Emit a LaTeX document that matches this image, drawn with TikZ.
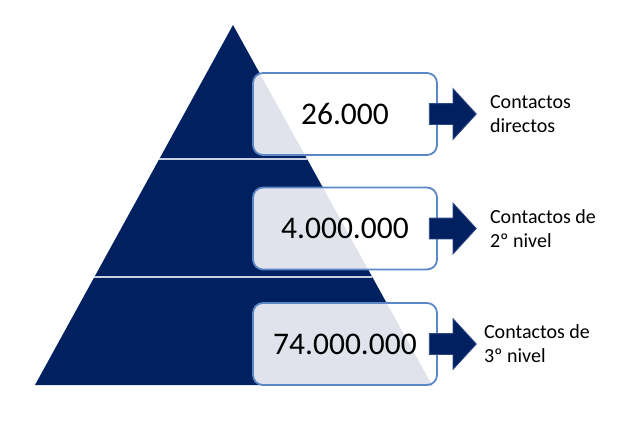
\documentclass[tikz,border=0pt]{standalone}
\usepackage{fontspec}
\setmainfont{Carlito}
\usetikzlibrary{positioning, shapes.arrows, calc}
\definecolor{navypyr}{HTML}{002060}
\definecolor{boxedge}{HTML}{5B87C6}
\definecolor{arrowedge}{HTML}{2E4A86}
\definecolor{tiersep}{HTML}{C9D2E3}

\begin{document}
\begin{tikzpicture}[x=1pt, y=-1pt,
    numbox/.style={draw=boxedge, line width=1.8pt, fill=white, fill opacity=0.88,
      text opacity=1, rounded corners=10pt, minimum width=184pt, minimum height=82pt,
      inner sep=0pt, font=\fontsize{31.5}{38}\selectfont},
    bigarrow/.style={single arrow, draw=arrowedge, line width=0.8pt, fill=navypyr,
      minimum height=47pt, single arrow head extend=15pt,
      single arrow tip angle=95, inner xsep=0pt, inner ysep=10pt},
    lbl/.style={align=left, inner sep=0pt, font=\fontsize{20}{24}\selectfont}]
  \useasboundingbox (0,0) rectangle (640,424);

  % pyramid
  \coordinate (top) at (233,25);
  \coordinate (bl) at (35,385);
  \coordinate (br) at (432,385);
  \fill[navypyr] (top) -- (bl) -- (br) -- cycle;
  \draw[tiersep, line width=1.5pt] ($(top)!0.372!(bl)$) -- ($(top)!0.372!(br)$);
  \draw[tiersep, line width=1.5pt] ($(top)!0.70!(bl)$) -- ($(top)!0.70!(br)$);

  % number boxes
  \node[numbox] (b1) at (345,114) {26.000};
  \node[numbox] (b2) at (345,228.5) {4.000.000};
  \node[numbox] (b3) at (345,344) {74.000.000};

  % arrows and labels
  \node[bigarrow, right=-9pt of b1] (a1) {};
  \node[bigarrow, right=-9pt of b2] (a2) {};
  \node[bigarrow, right=-9pt of b3] (a3) {};
  \node[lbl, right=13pt of a1] (l1) {Contactos\\directos};
  \node[lbl, right=13pt of a2] (l2) {Contactos de\\2º nivel};
  \node[lbl, right=7pt of a3] (l3) {Contactos de\\3º nivel};
\end{tikzpicture}
\end{document}
